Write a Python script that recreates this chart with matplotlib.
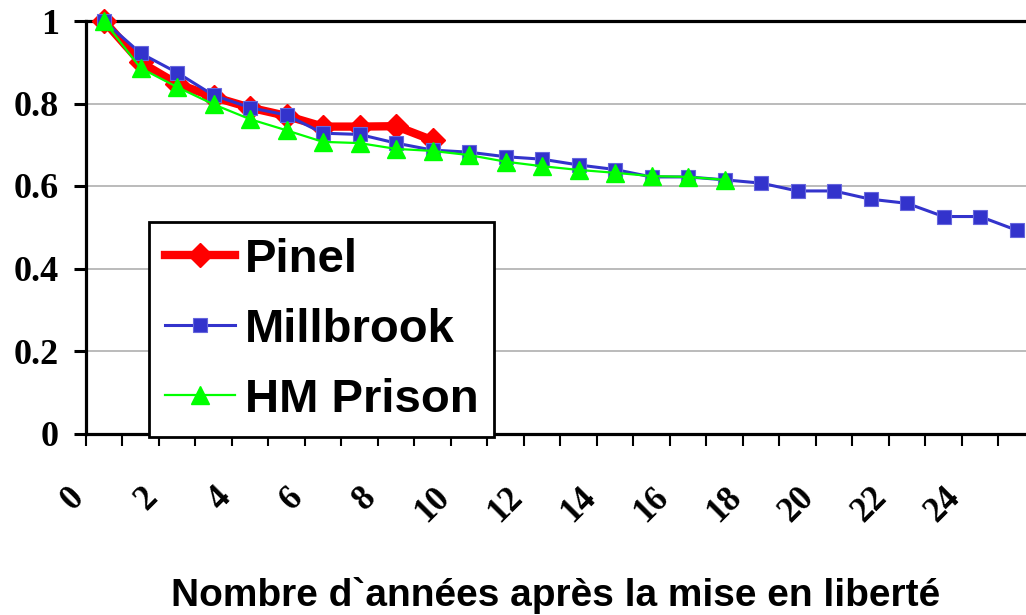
import numpy as np
import matplotlib
matplotlib.use("Agg")
import matplotlib.pyplot as plt
from matplotlib.transforms import ScaledTranslation

# survival proportion by year after release
pinel = [1.0, 0.90, 0.848, 0.816, 0.79, 0.77, 0.744, 0.744, 0.745, 0.711]
millbrook = [1.0, 0.922, 0.875, 0.82, 0.79, 0.772, 0.728, 0.725, 0.704, 0.687,
             0.682, 0.671, 0.665, 0.651, 0.640, 0.622, 0.622, 0.615, 0.607,
             0.588, 0.588, 0.568, 0.558, 0.526, 0.526, 0.493]
hm_prison = [1.0, 0.886, 0.840, 0.798, 0.762, 0.735, 0.707, 0.704, 0.690,
             0.685, 0.675, 0.659, 0.648, 0.639, 0.632, 0.624, 0.622, 0.615]
year_labels = [str(i) for i in range(0, 25, 2)]
n_cat = 26

fig = plt.figure(figsize=(10.26, 6.15), dpi=100)
ax = fig.add_axes([85.75 / 1026, 181.5 / 615, 949 / 1026, 412.5 / 615])

x_p = np.arange(len(pinel)) + 0.5
x_m = np.arange(len(millbrook)) + 0.5
x_h = np.arange(len(hm_prison)) + 0.5

ax.plot(x_p, pinel, color='#FF0000', lw=6, marker='D', ms=12.5,
        mec='#FF0000', label='Pinel', zorder=3, clip_on=False)
ax.plot(x_m, millbrook, color='#3333CC', lw=2.2, marker='s', ms=10.5,
        mec='#6666DD', mew=0.8, label='Millbrook', zorder=4, clip_on=False)
ax.plot(x_h, hm_prison, color='#00FF00', lw=1.6, marker='^', ms=12.5,
        mec='#00FF00', label='HM Prison', zorder=5, clip_on=False)

ax.set_xlim(0, n_cat)
ax.set_ylim(0, 1)

# y axis
ax.set_yticks([0, 0.2, 0.4, 0.6, 0.8, 1.0])
ax.set_yticklabels(['0', '0.2', '0.4', '0.6', '0.8', '1'])
for lab in ax.get_yticklabels():
    lab.set_fontfamily('Liberation Serif')
    lab.set_fontweight('bold')
    lab.set_fontsize(26)
ax.tick_params(axis='y', direction='out', length=8.5, width=2.2, pad=11)
ax.yaxis.grid(True, color='#A8A8A8', lw=1.1)
ax.set_axisbelow(True)

# x axis: marks at category boundaries, labels at even category centres
ax.set_xticks(np.arange(0, n_cat + 1))
ax.set_xticklabels([])
ax.set_xticks(np.arange(0, 25, 2) + 0.5, minor=True)
ax.set_xticklabels(year_labels, minor=True, rotation=45, ha='right', va='top',
                   fontfamily='Liberation Serif', fontweight='bold', fontsize=25)
ax.tick_params(axis='x', which='major', direction='out', length=8.5, width=1.5)
ax.tick_params(axis='x', which='minor', length=0, pad=34)
shift = ScaledTranslation(-13 / 100, 0, fig.dpi_scale_trans)
for lab in ax.get_xticklabels(minor=True):
    lab.set_transform(lab.get_transform() + shift)

for side in ['left', 'bottom', 'top']:
    ax.spines[side].set_linewidth(2.3)
    ax.spines[side].set_color('black')
ax.spines['right'].set_visible(False)

fig.text(556 / 1026, 1 - 596 / 615, "Nombre d`années après la mise en liberté",
         ha='center', va='center', fontfamily='Liberation Sans',
         fontweight='bold', fontsize=28)

leg = ax.legend(loc='upper left', bbox_to_anchor=(149 / 1026, 1 - 222 / 615),
                bbox_transform=fig.transFigure, borderaxespad=0,
                prop={'family': 'Liberation Sans', 'weight': 'bold', 'size': 34},
                fancybox=False, framealpha=1, edgecolor='black',
                handlelength=1.5, handletextpad=0.2, labelspacing=0.55,
                borderpad=0.33)
leg.get_frame().set_linewidth(2)

fig.savefig('out.png', dpi=100)
